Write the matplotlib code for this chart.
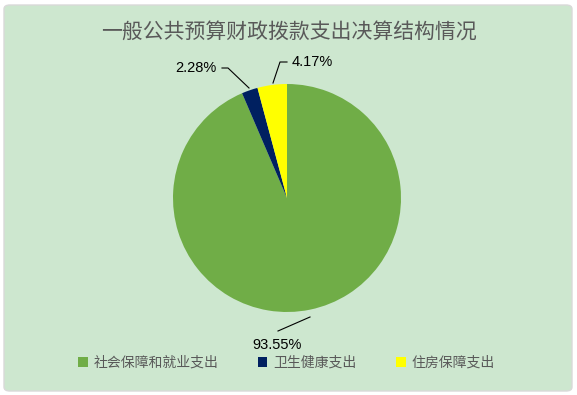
import matplotlib.pyplot as plt
from matplotlib.patches import FancyBboxPatch

plt.rcParams['font.family'] = ['Noto Sans CJK SC', 'DejaVu Sans']

title = "一般公共预算财政拨款支出决算结构情况"
categories = ["社会保障和就业支出", "卫生健康支出", "住房保障支出"]
values = [93.55, 2.28, 4.17]
colors = ["#70AD47", "#002060", "#FFFF00"]

W, H = 577, 395
fig = plt.figure(figsize=(W / 100, H / 100), dpi=100)
fig.patch.set_facecolor("white")

# chart area background with rounded gray border
bg = FancyBboxPatch((4 / W, 4 / H), 568 / W, 386 / H,
                    boxstyle="round,pad=0,rounding_size=0.01",
                    transform=fig.transFigure, facecolor="#CDE7CF",
                    edgecolor="#D9D9D9", linewidth=1, zorder=-5)
fig.patches.append(bg)

fig.text(0.5, 1 - 32 / H, title, ha="center", va="center",
         fontsize=15, color="#595959")

# pie: center (287, 198) px, radius 114 px
cx, cy, r = 287, 198, 114
ax = fig.add_axes([(cx - r) / W, (H - cy - r) / H, 2 * r / W, 2 * r / H])
ax.set_zorder(2)
ax.patch.set_alpha(0)

wedges, _ = ax.pie(values, colors=colors, startangle=90, counterclock=False,
                   radius=1, wedgeprops=dict(linewidth=0))
ax.set_xlim(-1, 1)
ax.set_ylim(-1, 1)
ax.axis("off")


def px(x, y):
    return ((x - cx) / r, (cy - y) / r)


labels = [f"{v:.2f}%" for v in values]
# (text position, leader line points) in pixel coords
label_pos = [
    ((277, 345), [(278, 331), (310, 317)]),
    ((196, 68), [(222, 68), (228, 68), (249, 88)]),
    ((312, 62), [(287, 62), (280, 62), (273, 83)]),
]
for lab, (tp, line) in zip(labels, label_pos):
    tx, ty = px(*tp)
    ax.text(tx, ty, lab, ha="center", va="center", fontsize=10.5,
            color="black", family="Liberation Sans", clip_on=False)
    xs, ys = zip(*[px(*p) for p in line])
    ax.plot(xs, ys, color="black", linewidth=0.8, clip_on=False)

fig.legend(wedges, categories, loc="center", bbox_to_anchor=(286.5 / W, 1 - 363 / H),
           ncol=3, frameon=False, fontsize=10, handlelength=0.7, handleheight=0.7,
           handletextpad=0.45, columnspacing=2.8, labelcolor="#595959")

fig.savefig("out.png", dpi=100, facecolor=fig.get_facecolor())
